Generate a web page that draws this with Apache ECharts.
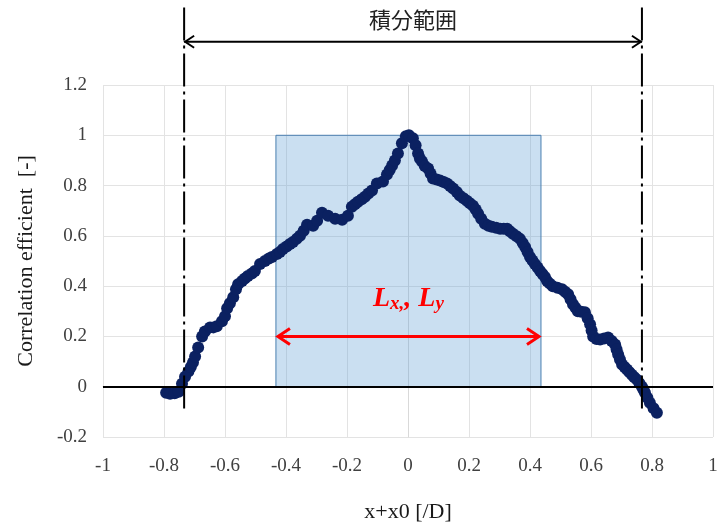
<!DOCTYPE html>
<html><head><meta charset="utf-8">
<script src="https://cdn.jsdelivr.net/npm/echarts@6/dist/echarts.min.js"></script>
<style>html,body{margin:0;padding:0;background:#fff}#c{width:717px;height:529px}</style>
</head><body><div id="c"></div>
<script>
// Data
const xVals = [-0.793,-0.78,-0.765,-0.752,-0.741,-0.731,-0.72,-0.712,-0.705,-0.698,-0.688,-0.675,-0.666,-0.649,-0.638,-0.627,-0.61,-0.6,-0.593,-0.584,-0.573,-0.564,-0.557,-0.544,-0.535,-0.525,-0.512,-0.502,-0.485,-0.469,-0.456,-0.446,-0.43,-0.42,-0.41,-0.398,-0.387,-0.377,-0.365,-0.354,-0.342,-0.331,-0.311,-0.298,-0.282,-0.262,-0.239,-0.216,-0.197,-0.184,-0.174,-0.164,-0.152,-0.141,-0.13,-0.118,-0.102,-0.082,-0.069,-0.06,-0.052,-0.043,-0.033,-0.02,-0.007,0.003,0.016,0.025,0.033,0.039,0.046,0.055,0.066,0.074,0.082,0.094,0.105,0.117,0.128,0.138,0.148,0.16,0.17,0.182,0.193,0.203,0.213,0.222,0.23,0.24,0.252,0.264,0.275,0.289,0.302,0.314,0.325,0.334,0.344,0.356,0.367,0.376,0.384,0.392,0.4,0.408,0.416,0.425,0.433,0.441,0.449,0.456,0.465,0.475,0.49,0.505,0.515,0.525,0.533,0.541,0.549,0.557,0.568,0.58,0.589,0.597,0.602,0.607,0.618,0.63,0.643,0.656,0.668,0.679,0.684,0.689,0.695,0.702,0.71,0.718,0.726,0.734,0.742,0.751,0.759,0.767,0.772,0.777,0.785,0.793,0.805,0.816];
const yVals = [-0.024,-0.028,-0.026,-0.02,0.012,0.04,0.06,0.078,0.096,0.12,0.156,0.2,0.22,0.236,0.236,0.24,0.26,0.28,0.312,0.332,0.356,0.388,0.408,0.42,0.43,0.44,0.45,0.46,0.488,0.5,0.51,0.516,0.528,0.536,0.548,0.558,0.568,0.576,0.588,0.6,0.62,0.644,0.64,0.66,0.692,0.68,0.668,0.664,0.68,0.716,0.726,0.736,0.746,0.756,0.768,0.78,0.808,0.816,0.844,0.862,0.88,0.9,0.928,0.968,0.996,1.0,0.988,0.96,0.928,0.908,0.896,0.878,0.868,0.848,0.828,0.824,0.82,0.814,0.808,0.798,0.788,0.774,0.76,0.75,0.74,0.73,0.72,0.705,0.688,0.668,0.648,0.64,0.636,0.632,0.628,0.628,0.628,0.618,0.608,0.598,0.588,0.572,0.556,0.536,0.516,0.502,0.488,0.474,0.46,0.448,0.436,0.42,0.41,0.4,0.394,0.388,0.378,0.368,0.348,0.328,0.314,0.3,0.298,0.296,0.272,0.248,0.224,0.2,0.19,0.188,0.192,0.196,0.182,0.168,0.148,0.128,0.108,0.088,0.078,0.068,0.058,0.048,0.038,0.028,0.014,0.0,-0.012,-0.024,-0.044,-0.064,-0.086,-0.104];
const integralRange = [-0.734, 0.767];   // dash-dot lines
const lengthRange = [-0.433, 0.436];     // blue box / red arrow
const boxTop = 1.0;
const redArrowY = 0.2;
const xTicks = {min: -1, max: 1, interval: 0.2};
const yTicks = {min: -0.2, max: 1.2, interval: 0.2};
const titleText = '積分範囲';
const xName = 'x+x0 [/D]';
const yName = 'Correlation efficient  [-]';

const serif = '"Liberation Serif","Times New Roman",serif';
const chart = echarts.init(document.getElementById('c'), null, {renderer: 'canvas'});
const pts = xVals.map((x, i) => [x, yVals[i]]);

chart.setOption({
  animation: false,
  grid: {left: 103, right: 4, top: 85, bottom: 92, containLabel: false, outerBoundsMode: 'none'},
  xAxis: {
    type: 'value', min: xTicks.min, max: xTicks.max, interval: xTicks.interval,
    name: xName, nameLocation: 'middle', nameGap: 64,
    nameTextStyle: {fontFamily: serif, fontSize: 22, color: '#1a1a1a'},
    axisLine: {show: true, lineStyle: {color: '#d9d9d9', width: 1}},
    axisTick: {show: false},
    axisLabel: {fontFamily: serif, fontSize: 19, color: '#404040', margin: 20},
    splitLine: {show: true, lineStyle: {color: '#e3e3e3', width: 1}}
  },
  yAxis: {
    type: 'value', min: yTicks.min, max: yTicks.max, interval: yTicks.interval,
    name: yName, nameLocation: 'middle', nameGap: 66, nameRotate: 90,
    nameTextStyle: {fontFamily: serif, fontSize: 22, color: '#1a1a1a'},
    axisLine: {show: true, lineStyle: {color: '#d9d9d9', width: 1}},
    axisTick: {show: false},
    axisLabel: {fontFamily: serif, fontSize: 19, color: '#404040', margin: 16},
    splitLine: {show: true, lineStyle: {color: '#e3e3e3', width: 1}}
  },
  series: [
    {
      type: 'line', data: [], z: 1, silent: true,
      markLine: {
        silent: true, symbol: 'none', label: {show: false},
        lineStyle: {color: '#000', width: 2, type: 'solid'},
        data: [{yAxis: 0}]
      }
    },
    {
      type: 'scatter', data: pts, z: 3,
      symbol: 'circle', symbolSize: 12,
      itemStyle: {color: '#0b2161', opacity: 1}
    },
    {
      type: 'line', data: [], z: 5, silent: true,
      markArea: {
        silent: true,
        itemStyle: {color: 'rgba(91,155,213,0.32)', borderColor: '#4a7fb0', borderWidth: 1},
        data: [[{xAxis: lengthRange[0], yAxis: 0}, {xAxis: lengthRange[1], yAxis: boxTop}]]
      }
    }
  ]
});

function px(x, y) { return chart.convertToPixel({gridIndex: 0}, [x, y]); }
function buildGraphics() {
  const g = [];
  const yTopLine = 1.508, yBotLine = -0.09, yArrow = 1.372, yTitle = 1.46;
  integralRange.forEach(x => {
    const a = px(x, yTopLine), b = px(x, yBotLine);
    g.push({type: 'line', z: 20, shape: {x1: a[0], y1: a[1], x2: b[0], y2: b[1]},
      style: {stroke: '#000', lineWidth: 2, lineDash: [33, 5, 3, 5]}});
  });
  // black double arrow
  const L = px(integralRange[0], yArrow), R = px(integralRange[1], yArrow);
  g.push({type: 'line', z: 20, shape: {x1: L[0], y1: L[1], x2: R[0], y2: R[1]}, style: {stroke: '#000', lineWidth: 2}});
  g.push({type: 'polyline', z: 20, shape: {points: [[L[0] + 10, L[1] - 6], [L[0] + 1, L[1]], [L[0] + 10, L[1] + 6]]}, style: {stroke: '#000', lineWidth: 2, fill: null}});
  g.push({type: 'polyline', z: 20, shape: {points: [[R[0] - 10, R[1] - 6], [R[0] - 1, R[1]], [R[0] - 10, R[1] + 6]]}, style: {stroke: '#000', lineWidth: 2, fill: null}});
  const T = px((integralRange[0] + integralRange[1]) / 2, yTitle);
  g.push({type: 'text', z: 20, x: T[0], y: T[1], style: {text: titleText, font: '22px "Noto Sans CJK JP", sans-serif', fill: '#222', align: 'center', verticalAlign: 'middle'}});
  // red double arrow
  const rl = px(lengthRange[0], redArrowY), rr = px(lengthRange[1], redArrowY);
  g.push({type: 'line', z: 21, shape: {x1: rl[0] + 2, y1: rl[1], x2: rr[0] - 2, y2: rr[1]}, style: {stroke: '#ff0000', lineWidth: 3}});
  g.push({type: 'polyline', z: 21, shape: {points: [[rl[0] + 14, rl[1] - 8], [rl[0] + 2, rl[1]], [rl[0] + 14, rl[1] + 8]]}, style: {stroke: '#ff0000', lineWidth: 3, fill: null}});
  g.push({type: 'polyline', z: 21, shape: {points: [[rr[0] - 14, rr[1] - 8], [rr[0] - 2, rr[1]], [rr[0] - 14, rr[1] + 8]]}, style: {stroke: '#ff0000', lineWidth: 3, fill: null}});
  const LT = px((lengthRange[0] + lengthRange[1]) / 2, 0.35);
  g.push({type: 'text', z: 21, x: LT[0], y: LT[1], style: {
    text: '{m|L}{s|x,}{m|, L}{s|y}', align: 'center', verticalAlign: 'middle',
    rich: {
      m: {fontFamily: serif, fontSize: 28, fontWeight: 'bold', fontStyle: 'italic', fill: '#ff0000', color: '#ff0000'},
      s: {fontFamily: serif, fontSize: 19, fontWeight: 'bold', fontStyle: 'italic', fill: '#ff0000', color: '#ff0000', padding: [11, 0, 0, 0]}
    }
  }});
  chart.setOption({graphic: g});
}
buildGraphics();
</script>
</body></html>
